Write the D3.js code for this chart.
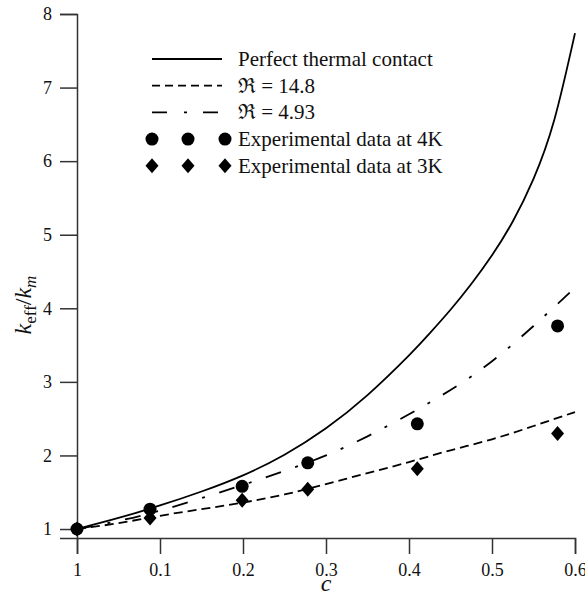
<!DOCTYPE html>
<html>
<head>
<meta charset="utf-8">
<script src="https://cdn.jsdelivr.net/npm/d3@7"></script>
<style>
  body { margin: 0; background: #fff; }
  svg text { font-family: "Liberation Serif", Tinos, "Times New Roman", serif; fill: #111; }
</style>
</head>
<body>
<div id="chart"></div>
<script>
// Values
const xTicks = [0, 0.1, 0.2, 0.3, 0.4, 0.5, 0.6];
const xTickLabels = ["1", "0.1", "0.2", "0.3", "0.4", "0.5", "0.6"];
const yTicks = [1, 2, 3, 4, 5, 6, 7, 8];

// Perfect thermal contact (solid)
const perfectC = [0, 0.05, 0.1, 0.15, 0.2, 0.25, 0.3, 0.35, 0.4, 0.425, 0.45, 0.475, 0.5, 0.525, 0.55, 0.575, 0.6];
const perfectK = [1, 1.15, 1.32, 1.51, 1.73, 2.01, 2.37, 2.82, 3.36, 3.66, 3.98, 4.33, 4.72, 5.18, 5.76, 6.56, 7.74];

// R = 14.8 (dashed)
const r148C = [0, 0.05, 0.1, 0.15, 0.2, 0.25, 0.3, 0.35, 0.4, 0.45, 0.5, 0.55, 0.6];
const r148K = [1, 1.08, 1.18, 1.27, 1.36, 1.47, 1.61, 1.76, 1.91, 2.07, 2.22, 2.4, 2.59];

// R = 4.93 (dash-dot)
const r493C = [0, 0.05, 0.1, 0.15, 0.2, 0.25, 0.3, 0.35, 0.4, 0.45, 0.5, 0.55, 0.6];
const r493K = [1, 1.11, 1.25, 1.42, 1.6, 1.79, 2.0, 2.26, 2.56, 2.89, 3.28, 3.76, 4.28];

// Experimental data
const exp4C = [0, 0.088, 0.199, 0.278, 0.41, 0.579];
const exp4K = [1, 1.27, 1.58, 1.9, 2.43, 3.76];
const exp3C = [0, 0.088, 0.199, 0.278, 0.41, 0.579];
const exp3K = [1, 1.15, 1.39, 1.54, 1.82, 2.3];

const width = 585,
  height = 596;
const serif = '"Liberation Serif", Tinos, "Times New Roman", serif';

const svg = d3
  .select("#chart")
  .append("svg")
  .attr("width", width)
  .attr("height", height)
  .attr("font-family", serif);

const x = d3.scaleLinear().domain([0, 0.6]).range([77, 575]);
const y = d3.scaleLinear().domain([0.878, 8]).range([538, 14]);

// Axes
const xAxis = svg
  .append("g")
  .attr("transform", "translate(0,538)")
  .call(
    d3
      .axisBottom(x)
      .tickValues(xTicks)
      .tickFormat((d, i) => xTickLabels[i])
      .tickSizeOuter(0)
      .tickSize(16)
      .tickPadding(9)
  );

const yAxis = svg
  .append("g")
  .attr("transform", "translate(77,0)")
  .call(
    d3
      .axisLeft(y)
      .tickValues(yTicks)
      .tickFormat(d3.format("d"))
      .tickSizeOuter(0)
      .tickSize(17)
      .tickPadding(8)
  );

[xAxis, yAxis].forEach((g) => {
  g.attr("font-family", serif).attr("font-size", 18);
  g.selectAll("path, line").attr("stroke", "#333").attr("stroke-width", 1.5);
  g.selectAll("text").attr("fill", "#222");
});

// Axis titles
svg
  .append("text")
  .attr("x", 326)
  .attr("y", 591)
  .attr("text-anchor", "middle")
  .style("font-size", "24px")
  .style("font-style", "italic")
  .text("c");

const yLabel = svg
  .append("text")
  .attr("transform", "translate(31,305) rotate(-90)")
  .attr("text-anchor", "middle")
  .style("font-size", "24px");
yLabel.append("tspan").style("font-style", "italic").text("k");
yLabel.append("tspan").attr("dy", 5).style("font-size", "17px").text("eff");
yLabel.append("tspan").attr("dy", -5).text("/");
yLabel.append("tspan").style("font-style", "italic").text("k");
yLabel
  .append("tspan")
  .attr("dy", 5)
  .style("font-size", "17px")
  .style("font-style", "italic")
  .text("m");

// Curves
const line = d3
  .line()
  .x((d) => x(d[0]))
  .y((d) => y(d[1]))
  .curve(d3.curveNatural);

const curves = [
  { c: perfectC, k: perfectK, dash: null, w: 1.8 },
  { c: r148C, k: r148K, dash: "9,5", w: 1.8 },
  { c: r493C, k: r493K, dash: "16,15,3,15", w: 1.8 },
];

curves.forEach((s) => {
  svg
    .append("path")
    .datum(d3.zip(s.c, s.k))
    .attr("d", line)
    .attr("fill", "none")
    .attr("stroke", "#000")
    .attr("stroke-width", s.w)
    .attr("stroke-dasharray", s.dash);
});

// Diamond symbol, a little wider than d3.symbolDiamond
const diamond = {
  draw(context, size) {
    const hw = 6.5,
      hh = 7.5;
    context.moveTo(0, -hh);
    context.lineTo(hw, 0);
    context.lineTo(0, hh);
    context.lineTo(-hw, 0);
    context.closePath();
  },
};

svg
  .append("g")
  .selectAll("circle")
  .data(d3.zip(exp4C, exp4K))
  .enter()
  .append("circle")
  .attr("cx", (d) => x(d[0]))
  .attr("cy", (d) => y(d[1]))
  .attr("r", 6.5)
  .attr("fill", "#000");

svg
  .append("g")
  .selectAll("path")
  .data(d3.zip(exp3C, exp3K))
  .enter()
  .append("path")
  .attr("transform", (d) => `translate(${x(d[0])},${y(d[1])})`)
  .attr("d", d3.symbol().type(diamond))
  .attr("fill", "#000");

// Legend
const legendItems = [
  { label: "Perfect thermal contact", kind: "line", dash: null },
  { label: "\u211C = 14.8", kind: "line", dash: "8,5" },
  { label: "\u211C = 4.93", kind: "line", dash: "15,17,3,16" },
  { label: "Experimental data at 4K", kind: "circle" },
  { label: "Experimental data at 3K", kind: "diamond" },
];

const legend = svg.append("g").attr("transform", "translate(152,59)");

legendItems.forEach((item, i) => {
  const row = legend.append("g").attr("transform", `translate(0,${i * 26.7})`);
  if (item.kind === "line") {
    row
      .append("line")
      .attr("x1", 0)
      .attr("x2", 70)
      .attr("stroke", "#000")
      .attr("stroke-width", 1.8)
      .attr("stroke-dasharray", item.dash);
  } else {
    [0, 36, 73].forEach((dx) => {
      if (item.kind === "circle") {
        row.append("circle").attr("cx", dx).attr("r", 6.5).attr("fill", "#000");
      } else {
        row
          .append("path")
          .attr("transform", `translate(${dx},0)`)
          .attr("d", d3.symbol().type(diamond))
          .attr("fill", "#000");
      }
    });
  }
  row
    .append("text")
    .attr("x", 86)
    .attr("y", 7)
    .style("font-size", "21px")
    .text(item.label);
});
</script>
</body>
</html>
